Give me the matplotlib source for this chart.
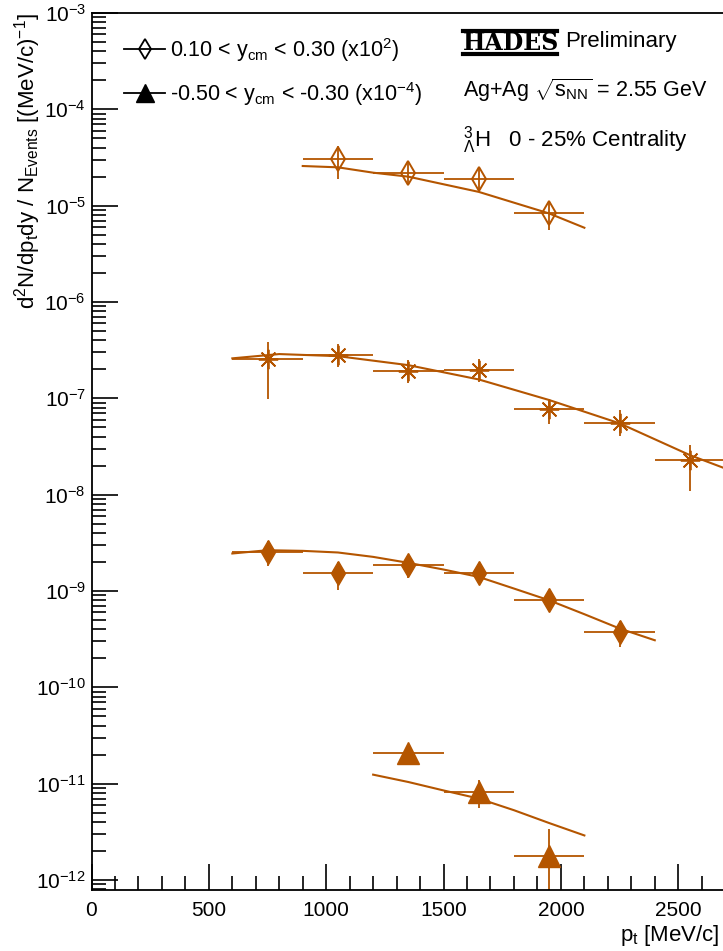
import matplotlib
matplotlib.use('Agg')
import matplotlib.pyplot as plt
from matplotlib.lines import Line2D
from matplotlib.ticker import MultipleLocator, LogLocator, NullFormatter
import numpy as np

plt.rcParams['font.family'] = ['Liberation Sans', 'DejaVu Sans']
plt.rcParams['mathtext.fontset'] = 'custom'
plt.rcParams['mathtext.rm'] = 'Liberation Sans'
plt.rcParams['mathtext.it'] = 'Liberation Sans:italic'
plt.rcParams['mathtext.bf'] = 'Liberation Sans:bold'

col = '#b45500'

# bin half width (MeV/c)
bin_half = 150

# 0.10 < y < 0.30 (x10^2), open diamonds
pt_a = [1050, 1350, 1650, 1950]
y_a = [3.05e-5, 2.18e-5, 1.89e-5, 8.4e-6]
elo_a = [1.16e-5, 0.54e-5, 0.51e-5, 0.28e-5]
ehi_a = [1.10e-5, 0.66e-5, 0.63e-5, 0.28e-5]
fit_pt_a = [900, 1050, 1200, 1350, 1650, 1950, 2100]
fit_a = [2.58e-5, 2.50e-5, 2.20e-5, 2.0e-5, 1.39e-5, 8.3e-6, 5.9e-6]

# stars
pt_b = [750, 1050, 1350, 1650, 1950, 2250, 2550]
y_b = [2.54e-7, 2.81e-7, 1.93e-7, 1.96e-7, 7.7e-8, 5.6e-8, 2.28e-8]
elo_b = [1.56e-7, 0.69e-7, 0.49e-7, 0.49e-7, 2.3e-8, 1.55e-8, 1.19e-8]
ehi_b = [1.33e-7, 0.85e-7, 0.56e-7, 0.59e-7, 2.1e-8, 1.9e-8, 1.0e-8]
fit_pt_b = [600, 800, 1050, 1350, 1650, 1950, 2250, 2550, 2700]
fit_b = [2.60e-7, 2.88e-7, 2.74e-7, 2.21e-7, 1.57e-7, 9.6e-8, 5.5e-8, 2.57e-8, 1.87e-8]

# filled diamonds
pt_c = [750, 1050, 1350, 1650, 1950, 2250]
y_c = [2.55e-9, 1.52e-9, 1.85e-9, 1.54e-9, 8.0e-10, 3.76e-10]
err_c = [0.74e-9, 0.50e-9, 0.49e-9, 0.36e-9, 1.8e-10, 1.16e-10]
fit_pt_c = [600, 750, 900, 1050, 1200, 1350, 1500, 1650, 1800, 1950, 2100, 2250, 2400]
fit_c = [2.45e-9, 2.65e-9, 2.61e-9, 2.51e-9, 2.26e-9, 1.96e-9, 1.67e-9, 1.40e-9,
         1.06e-9, 8.0e-10, 5.74e-10, 4.08e-10, 3.08e-10]

# -0.50 < y < -0.30 (x10^-4), triangles
pt_d = [1350, 1650, 1950]
y_d = [2.06e-11, 8.2e-12, 1.76e-12]
err_d = [0.3e-11, 2.6e-12, 1.6e-12]
fit_pt_d = [1200, 1350, 1500, 1650, 1800, 1950, 2100]
fit_d = [1.24e-11, 1.04e-11, 8.5e-12, 7.0e-12, 5.3e-12, 3.9e-12, 2.9e-12]

fig = plt.figure(figsize=(7.23, 9.51), dpi=100)
ax = fig.add_axes([91.5 / 723, 61 / 951, 2800 * 0.2347 / 723, 877 / 951])
ax.set_xlim(0, 2800)
ax.set_yscale('log')
ax.set_ylim(7.87e-13, 1e-3)

ebkw = dict(color=col, elinewidth=1.3, capsize=0, ls='none')

ax.errorbar(pt_a, y_a, xerr=bin_half, yerr=[elo_a, ehi_a], marker='d', ms=12.7,
            mfc='none', mec=col, mew=1.4, **ebkw)
ax.plot(fit_pt_a, fit_a, color=col, lw=1.5)

ax.errorbar(pt_b, y_b, xerr=bin_half, yerr=[elo_b, ehi_b], marker=(8, 2, 0), ms=14,
            mec=col, mew=1.3, **ebkw)
ax.plot(fit_pt_b, fit_b, color=col, lw=1.5)

ax.errorbar(pt_c, y_c, xerr=bin_half, yerr=err_c, marker='d', ms=12.5,
            mfc=col, mec=col, **ebkw)
ax.plot(fit_pt_c, fit_c, color=col, lw=1.5)

ax.errorbar(pt_d, y_d, xerr=bin_half, yerr=err_d, marker='^', ms=16,
            mfc=col, mec=col, **ebkw)
ax.plot(fit_pt_d, fit_d, color=col, lw=1.5)

# axes style (ROOT-like)
ax.spines['right'].set_visible(False)
for s in ['left', 'bottom', 'top']:
    ax.spines[s].set_linewidth(1.3)
ax.xaxis.set_major_locator(MultipleLocator(500))
ax.xaxis.set_minor_locator(MultipleLocator(100))
ax.yaxis.set_major_locator(LogLocator(base=10, numticks=20))
ax.yaxis.set_minor_locator(LogLocator(base=10, subs=np.arange(2, 10), numticks=20))
ax.yaxis.set_minor_formatter(NullFormatter())
ax.tick_params(axis='both', which='both', direction='in', top=False, right=False,
               labelsize=15, width=1.2)
ax.tick_params(axis='both', which='major', length=19)
ax.tick_params(axis='both', which='minor', length=10)
ax.tick_params(axis='x', pad=8)
ax.tick_params(axis='y', pad=4)

ax.set_ylabel(r'd$^{2}$N/dp$_{\rm t}$dy / N$_{\rm Events}$ [(MeV/c)$^{-1}$]',
              fontsize=16)
ax.yaxis.label.set_horizontalalignment('right')
ax.yaxis.set_label_coords(-48 / 657, 1.0)
fig.text(0.995, 1 - 935 / 951, r'p$_{\rm t}$ [MeV/c]', fontsize=16, ha='right', va='center')

# legend
handles = [
    Line2D([], [], color='black', marker='d', ms=10, mfc='none', mew=1.3, lw=1.3),
    Line2D([], [], color='black', marker='^', ms=13, lw=1.3),
]
labels = [r'0.10 < y$_{\rm cm}$ < 0.30 (x10$^{2}$)',
          r'-0.50 < y$_{\rm cm}$ < -0.30 (x10$^{-4}$)']
ax.legend(handles, labels, loc='upper left', bbox_to_anchor=(24 / 657, 1 - 14 / 877),
          frameon=False, fontsize=15.5, handlelength=1.9, handletextpad=0.25,
          labelspacing=0.75, borderaxespad=0)

# annotations
fig.text(463 / 723, 1 - 43 / 951, 'HADES', fontsize=17, fontweight='heavy',
         family='DejaVu Serif', va='center', ha='left')
for yy in (31, 54):
    fig.add_artist(Line2D([463 / 723, 557 / 723], [1 - yy / 951] * 2, color='black', lw=3))
fig.text(565 / 723, 1 - 42 / 951, 'Preliminary', fontsize=16, va='center')
fig.text(463 / 723, 1 - 90 / 951, r'Ag+Ag $\sqrt{\mathrm{s}_{\rm NN}}$ = 2.55 GeV', fontsize=15.5,
         va='center')
fig.text(463 / 723, 1 - 140 / 951, r'${}^{3}_{\Lambda}$H   0 - 25% Centrality',
         fontsize=16, va='center')

fig.savefig('out.png', dpi=100)
